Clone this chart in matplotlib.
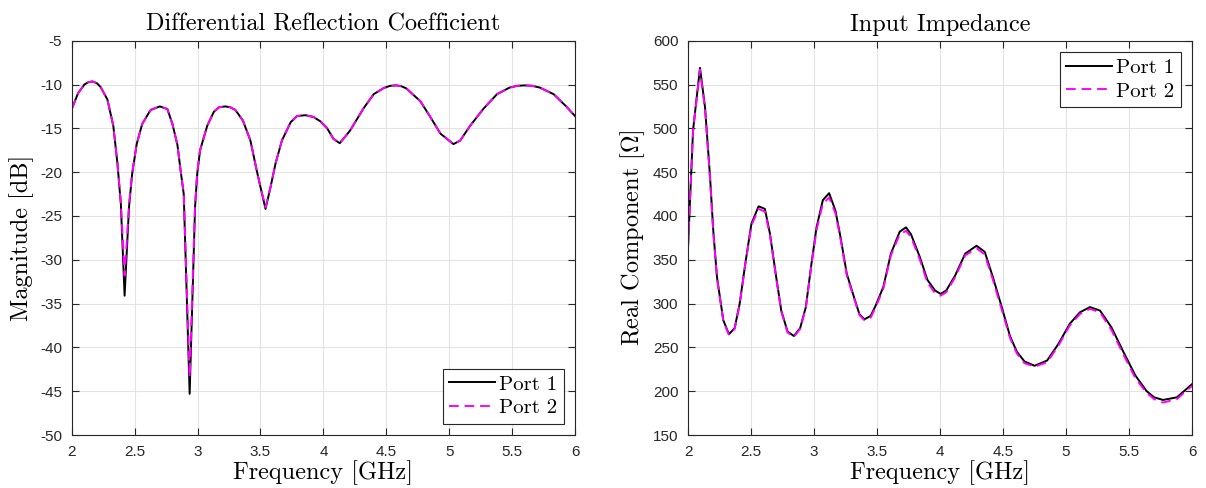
import numpy as np
import matplotlib
matplotlib.use("Agg")
import matplotlib.pyplot as plt

# ---- left panel: differential reflection coefficient (dB)
f_s = [2.00, 2.05, 2.10, 2.13, 2.164, 2.20, 2.23, 2.283, 2.33, 2.363,
       2.39, 2.42, 2.455, 2.48, 2.516, 2.56, 2.627, 2.70, 2.76, 2.80,
       2.84, 2.865, 2.89, 2.937, 2.98, 2.997, 3.02, 3.077, 3.13, 3.17,
       3.22, 3.26, 3.30, 3.36, 3.42, 3.47, 3.50, 3.54, 3.58, 3.62,
       3.67, 3.74, 3.79, 3.857, 3.92, 3.976, 4.03, 4.08, 4.13, 4.21,
       4.32, 4.40, 4.48, 4.53, 4.58, 4.62, 4.66, 4.77, 4.85, 4.93,
       5.034, 5.087, 5.167, 5.27, 5.38, 5.48, 5.54, 5.60, 5.66, 5.72,
       5.83, 5.93, 6.00]
s_port1 = [-12.8, -11.0, -10.0, -9.75, -9.65, -9.85, -10.3, -11.7, -14.7, -19.0,
           -23.6, -34.1, -24.0, -20.2, -16.8, -14.5, -12.9, -12.5, -12.8, -14.5,
           -16.9, -19.8, -22.5, -45.3, -24.0, -20.2, -17.5, -14.7, -13.1, -12.6,
           -12.5, -12.6, -12.9, -14.1, -16.4, -19.8, -21.7, -24.2, -21.7, -19.0,
           -16.4, -14.3, -13.6, -13.5, -13.7, -14.2, -15.0, -16.2, -16.7, -15.3,
           -12.7, -11.1, -10.4, -10.15, -10.1, -10.2, -10.45, -11.9, -13.7, -15.6,
           -16.8, -16.4, -14.7, -12.8, -11.1, -10.35, -10.15, -10.1, -10.15, -10.35,
           -11.1, -12.5, -13.6]
s_port2 = [-12.8, -11.0, -10.0, -9.75, -9.65, -9.85, -10.3, -11.7, -14.7, -19.0,
           -23.4, -31.8, -23.8, -20.1, -16.8, -14.5, -12.9, -12.5, -12.8, -14.5,
           -16.9, -19.8, -22.4, -43.4, -23.8, -20.1, -17.5, -14.7, -13.1, -12.6,
           -12.5, -12.6, -12.9, -14.1, -16.4, -19.8, -21.7, -24.0, -21.7, -19.0,
           -16.4, -14.3, -13.6, -13.5, -13.7, -14.2, -15.0, -16.2, -16.7, -15.3,
           -12.7, -11.1, -10.4, -10.15, -10.1, -10.2, -10.45, -11.9, -13.7, -15.6,
           -16.8, -16.4, -14.7, -12.8, -11.1, -10.35, -10.15, -10.1, -10.15, -10.35,
           -11.1, -12.5, -13.6]

# ---- right panel: input impedance, real part (Ohm)
f_z = [2.00, 2.04, 2.095, 2.135, 2.175, 2.20, 2.23, 2.28, 2.325, 2.37,
       2.41, 2.455, 2.503, 2.56, 2.61, 2.65, 2.70, 2.74, 2.79, 2.84,
       2.89, 2.935, 2.98, 3.02, 3.07, 3.12, 3.17, 3.21, 3.26, 3.32,
       3.36, 3.40, 3.45, 3.49, 3.55, 3.61, 3.68, 3.73, 3.77, 3.84,
       3.90, 3.96, 4.005, 4.05, 4.12, 4.20, 4.29, 4.355, 4.42, 4.49,
       4.555, 4.61, 4.67, 4.75, 4.85, 4.94, 5.03, 5.11, 5.19, 5.27,
       5.36, 5.455, 5.55, 5.64, 5.70, 5.77, 5.88, 6.00]
z_port1 = [365, 498, 569, 524, 444, 384, 330, 281, 265, 272,
           300, 346, 391, 411, 408, 380, 330, 292, 268, 263,
           272, 296, 346, 387, 418, 426, 406, 376, 334, 306,
           288, 282, 286, 298, 319, 357, 382, 387, 379, 353,
           327, 315, 311, 315, 332, 357, 366, 359, 330, 296,
           263, 245, 234, 229, 235, 254, 277, 290, 296, 292,
           273, 245, 218, 200, 193, 190, 193, 208]
z_port2 = [365, 497, 567, 522, 442, 382, 329, 280, 264, 271,
           299, 345, 389, 408, 405, 378, 329, 291, 267, 262,
           271, 295, 344, 384, 414, 421, 403, 374, 332, 305,
           287, 281, 284, 296, 317, 355, 379, 383, 376, 350,
           324, 312, 309, 313, 330, 355, 363, 356, 327, 293,
           261, 243, 232, 228, 233, 252, 275, 288, 294, 290,
           270, 242, 215, 198, 191, 187, 191, 206]

freq_ticks = [2, 2.5, 3, 3.5, 4, 4.5, 5, 5.5, 6]
freq_labels = ["2", "2.5", "3", "3.5", "4", "4.5", "5", "5.5", "6"]

plt.rcParams["axes.unicode_minus"] = False
plt.rcParams["mathtext.fontset"] = "cm"

fig = plt.figure(figsize=(12.06, 4.88), dpi=100)
ax1 = fig.add_axes([0.0595, 0.1086, 0.4173, 0.808])
ax2 = fig.add_axes([0.5705, 0.1086, 0.4179, 0.808])

serif = {"family": "cmr10"}
edge = "#262626"

def style(ax, yticks, title, ylabel):
    ax.set_xlim(2, 6)
    ax.set_xticks(freq_ticks)
    ax.set_xticklabels(freq_labels)
    ax.set_yticks(yticks)
    ax.set_yticklabels([str(v) for v in yticks])
    ax.set_ylim(yticks[0], yticks[-1])
    ax.grid(True, color="#e3e3e3", linewidth=0.8)
    ax.set_axisbelow(True)
    ax.tick_params(direction="in", length=5, width=0.8, top=True, right=True,
                   colors=edge, labelsize=11, pad=7)
    for lab in ax.get_xticklabels() + ax.get_yticklabels():
        lab.set_fontfamily("Liberation Sans")
        lab.set_color("#262626")
    for sp in ax.spines.values():
        sp.set_color(edge)
        sp.set_linewidth(0.8)
    ax.set_title(title, fontdict=serif, fontsize=17.5, pad=7)
    ax.set_xlabel("Frequency [GHz]", fontdict=serif, fontsize=17.5, labelpad=1)
    ax.set_ylabel(ylabel, fontsize=17.5, labelpad=4)

ax1.plot(f_s, s_port1, color="black", linewidth=1.4, label="Port 1")
ax1.plot(f_s, s_port2, color="#ff00ff", linewidth=1.4, linestyle=(0, (5, 3)), label="Port 2")
style(ax1, list(range(-50, 0, 5)), "Differential Reflection Coefficient", "Magnitude [dB]")
ax1.yaxis.label.set_fontfamily("cmr10")

ax2.plot(f_z, z_port1, color="black", linewidth=1.4, label="Port 1")
ax2.plot(f_z, z_port2, color="#ff00ff", linewidth=1.4, linestyle=(0, (5, 3)), label="Port 2")
style(ax2, list(range(150, 650, 50)), "Input Impedance", r"Real Component [$\Omega$]")
ax2.yaxis.label.set_fontfamily("cmr10")

for ax, loc in ((ax1, "lower right"), (ax2, "upper right")):
    leg = ax.legend(loc=loc, prop={"family": "cmr10", "size": 15}, fancybox=False,
                    framealpha=1, edgecolor=edge, handlelength=2.2, handletextpad=0.2,
                    borderpad=0.3, labelspacing=0.25, borderaxespad=0.55)
    leg.get_frame().set_linewidth(0.8)

fig.savefig("out.png", dpi=100)
